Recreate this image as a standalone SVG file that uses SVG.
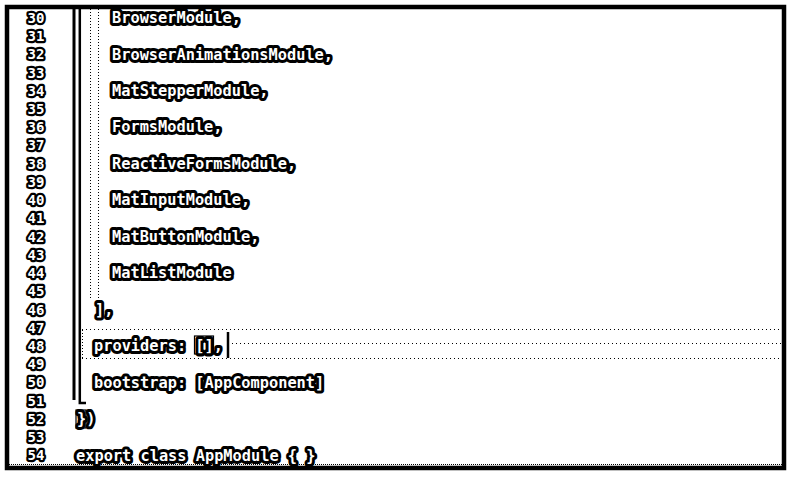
<svg xmlns="http://www.w3.org/2000/svg" width="810" height="479" viewBox="0 0 810 479">
<style>
.code{font-family:"DejaVu Sans Mono","Liberation Mono",monospace;font-weight:bold;font-size:15.3px;fill:#fff;stroke:#000;stroke-width:6px;stroke-linejoin:round;paint-order:stroke}
.num{font-family:"DejaVu Sans Mono","Liberation Mono",monospace;font-weight:bold;font-size:14px;fill:#fff;stroke:#000;stroke-width:4.5px;stroke-linejoin:round;paint-order:stroke;text-anchor:middle}
.dot{stroke:#000;stroke-width:1;stroke-dasharray:1 3;fill:none}
.vdot{stroke:#000;stroke-width:1;stroke-dasharray:1 2;fill:none}
.bar{stroke:#000;fill:none}
</style>
<rect width="810" height="479" fill="#fff"/>
<g id="frame">
<rect x="7" y="7" width="777" height="461" fill="none" stroke="#000" stroke-width="4.5"/>
<line x1="9" y1="464.5" x2="782" y2="464.5" stroke="#000" stroke-width="1" stroke-dasharray="1 1"/>
</g>
<g id="gutter-lines">
<line class="bar" x1="74" y1="9" x2="74" y2="400" stroke-width="3"/>
<polyline class="bar" points="79.8,9 79.8,403 86,403" stroke-width="2.5"/>
<line class="vdot" x1="90.5" y1="9" x2="90.5" y2="298"/>
<line class="vdot" x1="98.5" y1="9" x2="98.5" y2="298"/>
</g>
<g id="current-line">
<line class="dot" x1="82" y1="329.5" x2="782" y2="329.5"/>
<line class="dot" x1="232" y1="343.5" x2="782" y2="343.5"/>
<line class="dot" x1="82" y1="358.5" x2="782" y2="358.5"/>
<line class="vdot" x1="82.5" y1="330" x2="82.5" y2="358"/>
</g>
<g id="line-numbers">
<text class="num" x="36" y="22.8">30</text>
<text class="num" x="36" y="41">31</text>
<text class="num" x="36" y="59.3">32</text>
<text class="num" x="36" y="77.5">33</text>
<text class="num" x="36" y="95.7">34</text>
<text class="num" x="36" y="113.9">35</text>
<text class="num" x="36" y="132.2">36</text>
<text class="num" x="36" y="150.4">37</text>
<text class="num" x="36" y="168.6">38</text>
<text class="num" x="36" y="186.9">39</text>
<text class="num" x="36" y="205.1">40</text>
<text class="num" x="36" y="223.3">41</text>
<text class="num" x="36" y="241.6">42</text>
<text class="num" x="36" y="259.8">43</text>
<text class="num" x="36" y="278">44</text>
<text class="num" x="36" y="296.2">45</text>
<text class="num" x="36" y="314.5">46</text>
<text class="num" x="36" y="332.7">47</text>
<text class="num" x="36" y="350.9">48</text>
<text class="num" x="36" y="369.2">49</text>
<text class="num" x="36" y="387.4">50</text>
<text class="num" x="36" y="405.6">51</text>
<text class="num" x="36" y="423.9">52</text>
<text class="num" x="36" y="442.1">53</text>
<text class="num" x="36" y="460.3">54</text>
</g>
<g id="code">
<text class="code" x="112" y="23">BrowserModule,</text>
<text class="code" x="112" y="59.5">BrowserAnimationsModule,</text>
<text class="code" x="112" y="95.9">MatStepperModule,</text>
<text class="code" x="112" y="132.4">FormsModule,</text>
<text class="code" x="112" y="168.8">ReactiveFormsModule,</text>
<text class="code" x="112" y="205.3">MatInputModule,</text>
<text class="code" x="112" y="241.8">MatButtonModule,</text>
<text class="code" x="112" y="278.2">MatListModule</text>
<text class="code" x="95" y="314.7">],</text>
<text class="code" x="94" y="351.1">providers: [],</text>
<text class="code" x="94" y="387.6">bootstrap: [AppComponent]</text>
<text class="code" x="77" y="424">})</text>
<text class="code" x="76" y="460.5">export class AppModule { }</text>
</g>
<g id="highlights">
<rect x="194.5" y="336" width="19" height="18" fill="none" stroke="#000" stroke-width="1.2"/>
<line x1="228" y1="332" x2="228" y2="358" stroke="#000" stroke-width="2.5"/>
<rect x="76" y="410" width="10" height="18" fill="none" stroke="#000" stroke-width="1.2"/>
</g>
</svg>
